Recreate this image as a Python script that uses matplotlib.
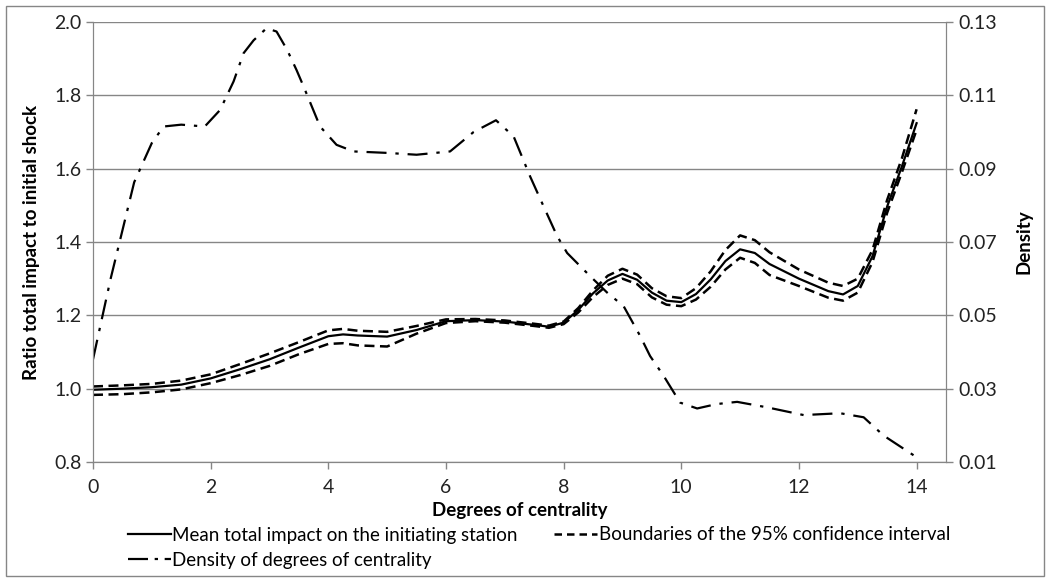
import numpy as np
import matplotlib
matplotlib.use("Agg")
import matplotlib.pyplot as plt
from matplotlib.lines import Line2D
from matplotlib.patches import Rectangle

plt.rcParams['font.family'] = ['Lato', 'DejaVu Sans']

# mean impact and 95% CI boundaries (left axis)
x_mean = [0, 0.5, 1, 1.5, 2, 2.5, 3, 3.5, 4, 4.25, 4.5, 5, 5.5, 6, 6.5, 7, 7.5, 7.75,
          8, 8.25, 8.5, 8.75, 9, 9.25, 9.5, 9.75, 10, 10.25, 10.5, 10.75, 11, 11.25,
          11.5, 12, 12.5, 12.75, 13, 13.25, 13.5, 13.75, 14]
mean_impact = [0.997, 1.000, 1.004, 1.011, 1.028, 1.053, 1.080, 1.112, 1.143, 1.148,
               1.145, 1.142, 1.160, 1.184, 1.187, 1.183, 1.174, 1.169, 1.180, 1.215,
               1.260, 1.295, 1.313, 1.297, 1.262, 1.240, 1.236, 1.258, 1.298, 1.348,
               1.380, 1.370, 1.340, 1.300, 1.266, 1.257, 1.280, 1.361, 1.497, 1.606, 1.724]
ci_upper = [1.006, 1.009, 1.013, 1.022, 1.039, 1.067, 1.096, 1.127, 1.159, 1.163,
            1.158, 1.155, 1.171, 1.189, 1.190, 1.186, 1.177, 1.172, 1.183, 1.220,
            1.268, 1.308, 1.327, 1.311, 1.274, 1.252, 1.247, 1.274, 1.320, 1.378,
            1.418, 1.405, 1.372, 1.325, 1.289, 1.280, 1.300, 1.378, 1.515, 1.628, 1.762]
ci_lower = [0.983, 0.985, 0.990, 0.998, 1.015, 1.037, 1.062, 1.094, 1.122, 1.124,
            1.118, 1.115, 1.150, 1.179, 1.184, 1.180, 1.171, 1.166, 1.176, 1.208,
            1.250, 1.283, 1.300, 1.285, 1.249, 1.229, 1.225, 1.243, 1.278, 1.325,
            1.357, 1.343, 1.310, 1.280, 1.248, 1.240, 1.262, 1.345, 1.480, 1.590, 1.706]

# density of degrees of centrality (right axis)
x_dens = [0, 0.3, 0.7, 1.0, 1.2, 1.5, 1.9, 2.16, 2.39, 2.56, 2.73, 2.95, 3.12, 3.3,
          3.46, 3.58, 3.86, 4.14, 4.43, 5.0, 5.5, 6.07, 6.47, 6.85, 7.15, 7.43, 7.66,
          7.89, 8.06, 8.45, 8.74, 9.02, 9.3, 9.47, 9.7, 9.98, 10.27, 10.6, 10.95, 11.46,
          12.08, 12.7, 13.1, 13.44, 14.0]
density = [0.038, 0.060, 0.0863, 0.097, 0.1015, 0.102, 0.1015, 0.106, 0.1138, 0.1215,
           0.125, 0.1283, 0.1274, 0.1224, 0.1169, 0.1124, 0.1015, 0.0965, 0.0947, 0.0943,
           0.0938, 0.0947, 0.100, 0.1032, 0.0988, 0.0879, 0.0797, 0.0716, 0.067, 0.0607,
           0.0562, 0.0525, 0.0444, 0.0389, 0.0335, 0.0262, 0.0246, 0.0258, 0.0264, 0.0249,
           0.0228, 0.0233, 0.0222, 0.0172, 0.0113]

grey = '#868686'
fig = plt.figure(figsize=(10.46, 5.78), dpi=100)
fig.patches.append(Rectangle((6/1046, 2/578), 1038/1046, 570/578, transform=fig.transFigure,
                             fill=False, edgecolor=grey, linewidth=1))
ax = fig.add_axes([93/1046, 1 - 462/578, (946-93)/1046, (462-22)/578])
ax2 = ax.twinx()

dash_ci = (0, (4, 2.2))
dash_dot = (0, (9, 4, 1.5, 4))
ax.plot(x_mean, mean_impact, color='black', lw=1.6, zorder=3)
ax.plot(x_mean, ci_upper, color='black', lw=1.8, linestyle=dash_ci, zorder=3)
ax.plot(x_mean, ci_lower, color='black', lw=1.8, linestyle=dash_ci, zorder=3)
ax2.plot(x_dens, density, color='black', lw=1.6, linestyle=dash_dot)

ax.set_xlim(0, 14.5)
ax.set_ylim(0.8, 2.0)
ax2.set_ylim(0.01, 0.13)
ax.set_xticks(np.arange(0, 15, 2))
ax.set_yticks(np.arange(0.8, 2.01, 0.2))
ax.set_yticklabels(['%.1f' % v for v in np.arange(0.8, 2.01, 0.2)])
ax2.set_yticks(np.arange(0.01, 0.131, 0.02))
ax2.set_yticklabels(['%.2f' % v for v in np.arange(0.01, 0.131, 0.02)])

ax.grid(axis='y', color=grey, lw=1)
ax.set_axisbelow(True)
for a in (ax, ax2):
    a.spines['top'].set_visible(False)
    for s in ('left', 'right', 'bottom'):
        a.spines[s].set_color(grey)
    a.tick_params(colors=grey, labelcolor='#222222', labelsize=14, length=5, width=1)
ax.tick_params(axis='x', pad=7)
ax.tick_params(axis='y', pad=3)
ax2.tick_params(axis='y', pad=4)

ax.set_xlabel('Degrees of centrality', fontsize=13.5, fontweight='bold')
ax.xaxis.set_label_coords(0.5, -0.09)
ax.set_ylabel('Ratio total impact to initial shock', fontsize=13.5, fontweight='bold')
ax.yaxis.set_label_coords(-0.062, 0.5)
ax2.set_ylabel('Density', fontsize=13.5, fontweight='bold')
ax2.yaxis.set_label_coords(1.082, 0.5)

handles = [Line2D([], [], color='black', lw=1.6),
           Line2D([], [], color='black', lw=1.6, linestyle=(0, (9, 3, 1.5, 3))),
           Line2D([], [], color='black', lw=1.8, linestyle=(0, (3, 2)))]
labels = ['Mean total impact on the initiating station',
          'Density of degrees of centrality',
          'Boundaries of the 95% confidence interval']
fig.legend(handles, labels, ncol=2, loc='upper left', bbox_to_anchor=(120/1046, 1 - 519/578),
           frameon=False, fontsize=13.5, handlelength=2.3, handletextpad=0.1,
           columnspacing=1.9, labelspacing=0.45, borderaxespad=0)

fig.savefig('out.png', dpi=100)
